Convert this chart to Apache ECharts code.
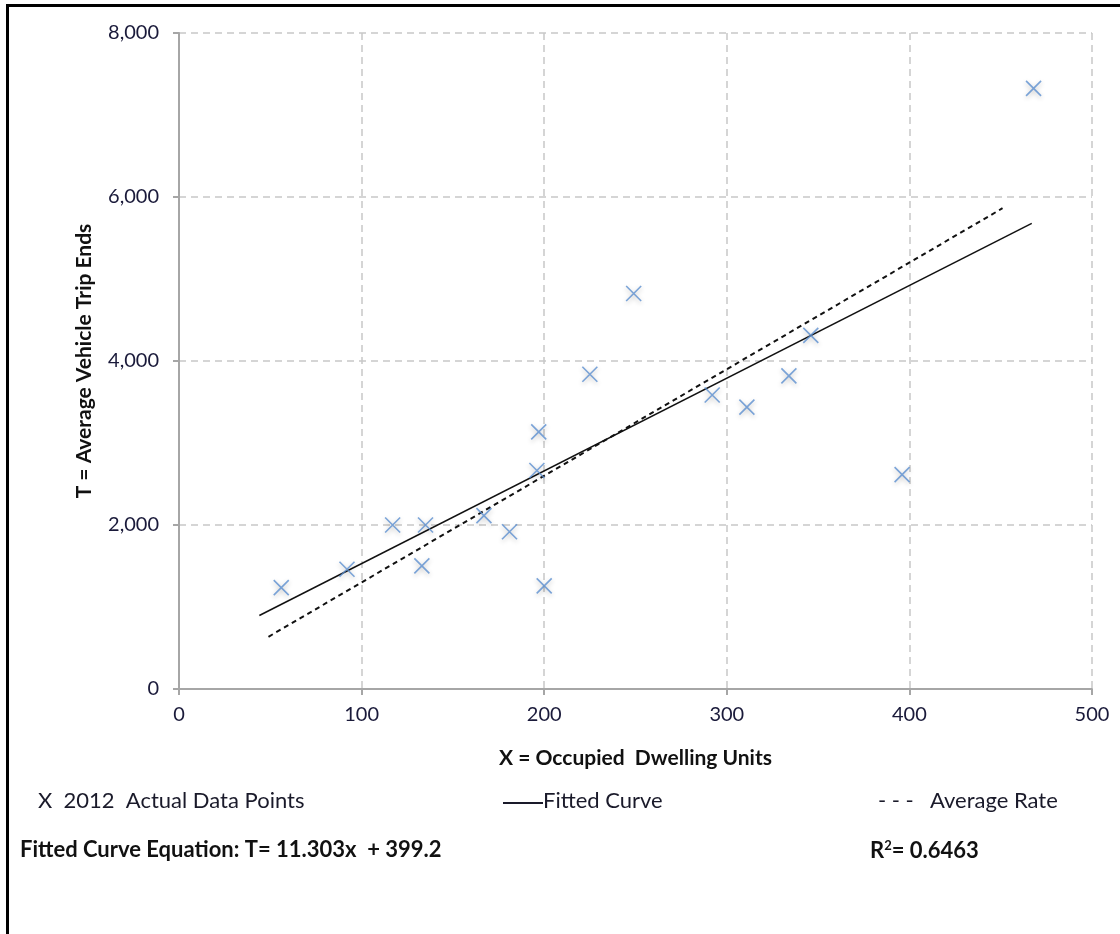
<!DOCTYPE html>
<html>
<head>
<meta charset="utf-8">
<script src="https://cdn.jsdelivr.net/npm/echarts@6/dist/echarts.min.js"></script>
<style>
  html, body { margin: 0; padding: 0; background: #fff; }
  #chart { width: 1120px; height: 934px; }
</style>
</head>
<body>
<div id="chart"></div>
<script>
// 2012 actual data points: X = occupied dwelling units, T = trip ends
const dwellingUnits = [56, 92, 117, 135, 133, 167, 181, 196, 197, 200, 225, 249, 292, 311, 334, 346, 396, 468];
const tripEnds = [1237, 1461, 2000, 2000, 1502, 2114, 1918, 2665, 3135, 1257, 3839, 4823, 3586, 3438, 3819, 4313, 2614, 7325];

// fitted curve T = 11.303x + 399.2
const fitSlope = 11.303;
const fitIntercept = 399.2;
const fitRange = [44, 467];

// average rate line T = rate * x
const avgRate = 13.0;
const avgRange = [49, 451];

const yTicks = [0, 2000, 4000, 6000, 8000];
const xTicks = [0, 100, 200, 300, 400, 500];

window.addEventListener("load", function () {
    let chart = echarts.init(document.getElementById("chart"));
    let font = "Lato, 'Open Sans', sans-serif";

    let points = dwellingUnits.map((x, i) => [x, tripEnds[i]]);
    let fitLine = fitRange.map(x => [x, fitSlope * x + fitIntercept]);
    let avgLine = avgRange.map(x => [x, avgRate * x]);

    let option = {
        backgroundColor: '#ffffff',
        animation: false,
        grid: { left: 179, right: 28, top: 33, bottom: 245 },
        xAxis: {
            type: 'value',
            min: xTicks[0],
            max: xTicks[xTicks.length - 1],
            interval: 100,
            name: 'X = Occupied  Dwelling Units',
            nameLocation: 'middle',
            nameGap: 59,
            nameTextStyle: { fontFamily: font, fontWeight: 'bold', fontSize: 21, color: '#111' },
            axisLine: { lineStyle: { color: '#a6a6a6', width: 2 } },
            axisTick: { show: true, length: 6, lineStyle: { color: '#a6a6a6', width: 2 } },
            axisLabel: { fontFamily: font, fontSize: 20, color: '#1a1a3a', margin: 16 },
            splitLine: { show: true, lineStyle: { color: '#c8c8c8', type: [7, 5], width: 1.5 } }
        },
        yAxis: {
            type: 'value',
            min: yTicks[0],
            max: yTicks[yTicks.length - 1],
            interval: 2000,
            name: 'T = Average Vehicle Trip Ends',
            nameLocation: 'middle',
            nameGap: 84,
            nameTextStyle: { fontFamily: font, fontWeight: 'bold', fontSize: 21, color: '#111' },
            axisLine: { show: true, lineStyle: { color: '#a6a6a6', width: 2 } },
            axisTick: { show: true, length: 6, lineStyle: { color: '#a6a6a6', width: 2 } },
            axisLabel: {
                fontFamily: font, fontSize: 20, color: '#1a1a3a', margin: 20,
                formatter: v => v.toLocaleString('en-US')
            },
            splitLine: { show: true, lineStyle: { color: '#c8c8c8', type: [7, 5], width: 1.5 } }
        },
        series: [
            {
                name: 'Fitted Curve',
                type: 'line',
                data: fitLine,
                symbol: 'none',
                lineStyle: { color: '#111', width: 1.5 },
                z: 3
            },
            {
                name: 'Average Rate',
                type: 'line',
                data: avgLine,
                symbol: 'none',
                lineStyle: { color: '#111', width: 2, type: [5, 4] },
                z: 3
            },
            {
                name: '2012 Actual Data Points',
                type: 'scatter',
                data: points,
                symbol: 'path://M0,0L10,10M10,0L0,10',
                symbolSize: 15,
                itemStyle: {
                    color: 'transparent',
                    borderColor: '#5b8ed0',
                    borderWidth: 1.6,
                    shadowBlur: 5,
                    shadowColor: 'rgba(0,0,0,0.3)',
                    shadowOffsetY: 2
                },
                z: 4
            }
        ],
        graphic: [
            { type: 'rect', left: 6, top: 4, shape: { width: 1120, height: 3 }, style: { fill: '#000' } },
            { type: 'rect', left: 6, top: 4, shape: { width: 3, height: 940 }, style: { fill: '#000' } },
            { type: 'text', left: 38, top: 790, style: { text: 'X  2012  Actual Data Points', font: '22px ' + font, fill: '#1a1a2a' } },
            { type: 'rect', left: 503, top: 802, shape: { width: 40, height: 2 }, style: { fill: '#1a1a2a' } },
            { type: 'text', left: 543, top: 790, style: { text: 'Fitted Curve', font: '22px ' + font, fill: '#1a1a2a' } },
            { type: 'text', left: 878, top: 790, style: { text: '- - -', font: '22px ' + font, fill: '#1a1a2a' } },
            { type: 'text', left: 930, top: 790, style: { text: 'Average Rate', font: '22px ' + font, fill: '#1a1a2a' } },
            { type: 'text', left: 20, top: 839, style: { text: 'Fitted Curve Equation: T= 11.303x  + 399.2', font: 'bold 22px ' + font, fill: '#111' } },
            { type: 'text', left: 870, top: 839, style: { rich: { n: { font: 'bold 22px ' + font, fill: '#111' }, s: { font: 'bold 13px ' + font, fill: '#111', verticalAlign: 'top', padding: [0, 0, 10, 0] } }, text: '{n|R}{s|2}{n|= 0.6463}' } }
        ]
    };

    chart.setOption(option);
});
</script>
</body>
</html>
